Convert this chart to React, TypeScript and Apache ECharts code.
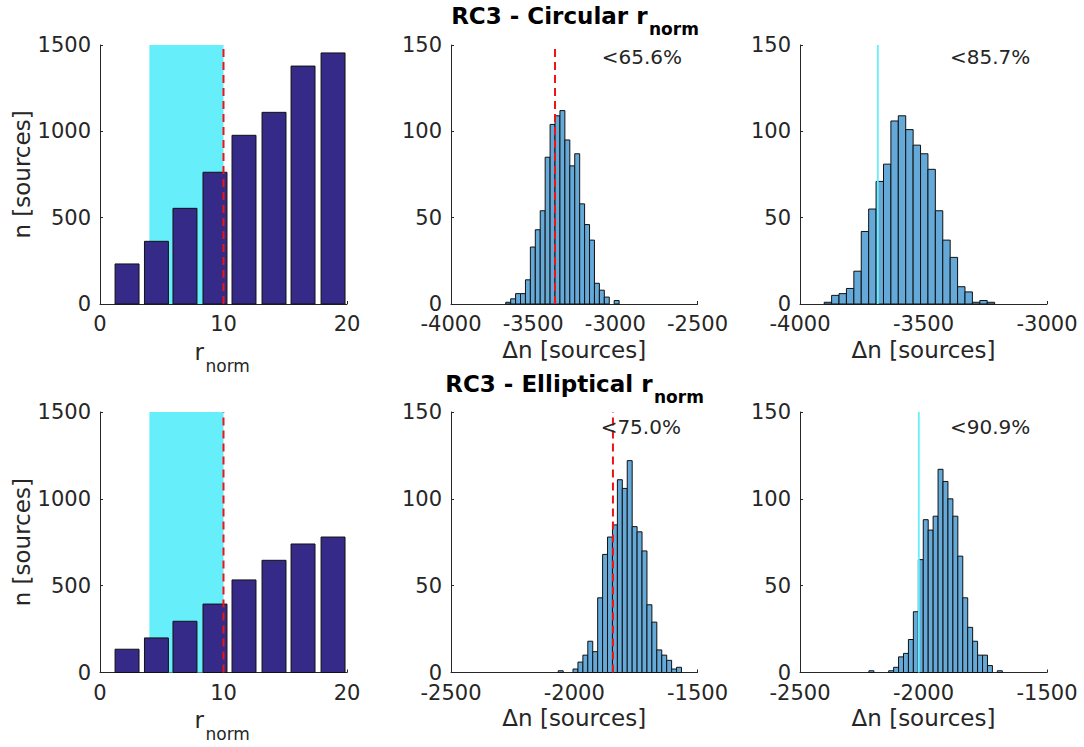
import React, { useEffect, useRef } from "react";
import * as echarts from "echarts";

// ---------- data ----------
const rnormCenters = [2.19, 4.57, 6.88, 9.31, 11.66, 14.09, 16.44, 18.87];
const rnormHalfWidth = 0.97;
const circularCounts = [232, 363, 554, 763, 977, 1110, 1378, 1454];
const ellipticalCounts = [134, 199, 295, 394, 533, 646, 740, 780];
const shadedRange = [4, 10];
const rnormCut = 10;

const circDiffStart = -3667;
const circDiffWidth = 30;
const circDiffCounts = [1, 3, 6, 6, 14, 33, 43, 54, 85, 104, 109, 112, 95, 80, 87, 58, 46, 37, 12, 8, 4, 0, 2];
const circDiffLine = -3367;
const circDiffPct = "<65.6%";

const circRefStart = -3902;
const circRefWidth = 30;
const circRefCounts = [1, 5, 6, 9, 19, 42, 55, 71, 81, 106, 109, 101, 92, 87, 78, 54, 37, 27, 10, 7, 1, 2, 1];
const circRefLine = -3685;
const circRefPct = "<85.7%";

const ellDiffStart = -2065;
const ellDiffWidth = 20;
const ellDiffCounts = [1, 0, 0, 2, 6, 10, 18, 12, 43, 68, 78, 85, 111, 106, 122, 84, 81, 70, 39, 29, 13, 10, 7, 2, 3];
const ellDiffLine = -1843;
const ellDiffPct = "<75.0%";

const ellRefStart = -2221;
const ellRefWidth = 20;
const ellRefCounts = [1, 0, 0, 0, 1, 3, 9, 11, 19, 35, 65, 88, 82, 90, 117, 110, 100, 90, 67, 43, 26, 18, 10, 10, 4, 0, 1];
const ellRefLine = -2019;
const ellRefPct = "<90.9%";

const leftXTicks = [0, 20, 10];
const leftYTicks = [0, 1500, 500];
const histYTicks = [0, 150, 50];
const circMidX = [-4000, -2500, 500];
const circRightX = [-4000, -3000, 500];
const ellMidX = [-2500, -1500, 500];
const ellRightX = [-2500, -1500, 500];
const pctPosTop = { mid: [-3083, 143], right: [-3393, 143] };
const pctPosBottom = { mid: [-1893, 141.3], right: [-1893, 141.3] };

// ---------- styles ----------
const FONT = "DejaVu Sans";
const AX = "#262626";
const NAVY = "#352A87";
const HIST = "#64A9D8";
const CYAN = "#66EEFB";
const RED = "#EE1414";

const grids = [
  { left: 100, top: 45, width: 247, height: 259 },
  { left: 451, top: 45, width: 246.5, height: 259 },
  { left: 800, top: 45, width: 247, height: 259 },
  { left: 100, top: 412, width: 247, height: 260.5 },
  { left: 451, top: 412, width: 246.5, height: 260.5 },
  { left: 800, top: 412, width: 247, height: 260.5 },
];

function axisCommon() {
  return {
    axisLine: { show: true, onZero: false, lineStyle: { color: AX, width: 1 } },
    axisTick: { show: true, inside: true, length: 3, lineStyle: { color: AX } },
    axisLabel: {
      color: AX,
      fontFamily: FONT,
      fontSize: 21,
      lineHeight: 16,
      margin: 12,
      showMinLabel: true,
      showMaxLabel: true,
      formatter: (v: number) => String(v),
    },
    splitLine: { show: false },
  };
}

function xAxisDef(gi: number, t: number[], name?: string) {
  const c: any = axisCommon();
  return {
    type: "value",
    gridIndex: gi,
    min: t[0],
    max: t[1],
    interval: t[2],
    ...c,
    name: name || "",
    nameLocation: "middle",
    nameGap: 34,
    nameTextStyle: { color: AX, fontFamily: FONT, fontSize: 23 },
  };
}

function yAxisDef(gi: number, t: number[], name?: string) {
  const c: any = axisCommon();
  c.axisLabel = { ...c.axisLabel, margin: 9 };
  return {
    type: "value",
    gridIndex: gi,
    min: t[0],
    max: t[1],
    interval: t[2],
    ...c,
    name: name || "",
    nameLocation: "middle",
    nameRotate: 90,
    nameGap: 64,
    nameTextStyle: { color: AX, fontFamily: FONT, fontSize: 23 },
  };
}

function binData(start: number, width: number, counts: number[]) {
  const out: number[][] = [];
  counts.forEach((c, i) => {
    if (c > 0) out.push([start + i * width, start + (i + 1) * width, c]);
  });
  return out;
}

function rectSeries(gi: number, data: number[][], fill: string, stroke: string | null, z: number) {
  return {
    type: "custom",
    xAxisIndex: gi,
    yAxisIndex: gi,
    z,
    silent: true,
    data,
    encode: { x: [0, 1], y: 2 },
    renderItem: (_p: any, api: any) => {
      const a = api.coord([api.value(0), api.value(2)]);
      const b = api.coord([api.value(1), 0]);
      return {
        type: "rect",
        shape: { x: a[0], y: a[1], width: b[0] - a[0], height: b[1] - a[1] },
        style: stroke ? { fill, stroke, lineWidth: 1 } : { fill },
      };
    },
  };
}

function vlineSeries(gi: number, x: number, ymax: number, color: string, dashed: boolean) {
  return {
    type: "custom",
    xAxisIndex: gi,
    yAxisIndex: gi,
    z: 5,
    silent: true,
    data: [[x, 0, ymax]],
    encode: { x: 0, y: [1, 2] },
    renderItem: (_p: any, api: any) => {
      const a = api.coord([api.value(0), api.value(1)]);
      const b = api.coord([api.value(0), api.value(2)]);
      return {
        type: "line",
        shape: { x1: a[0], y1: a[1], x2: b[0], y2: b[1] },
        style: dashed
          ? { stroke: color, lineWidth: 2, lineDash: [8, 5] }
          : { stroke: color, lineWidth: 1.8 },
      };
    },
  };
}

function textSeries(gi: number, pos: number[], text: string) {
  return {
    type: "custom",
    xAxisIndex: gi,
    yAxisIndex: gi,
    z: 6,
    silent: true,
    data: [pos],
    encode: { x: 0, y: 1 },
    renderItem: (_p: any, api: any) => {
      const p = api.coord([api.value(0), api.value(1)]);
      return {
        type: "text",
        style: {
          text,
          x: p[0],
          y: p[1],
          fill: AX,
          fontFamily: FONT,
          fontSize: 20,
          align: "left",
          verticalAlign: "middle",
        },
      };
    },
  };
}

function leftBars(counts: number[]) {
  return rnormCenters.map((c, i) => [c - rnormHalfWidth, c + rnormHalfWidth, counts[i]]);
}

function subLabel(xJoin: number, yMain: number, ySub: number, main: string, bold: boolean, mainSize: number, subSize: number, color: string) {
  const w = bold ? "bold" : "normal";
  return [
    {
      type: "text",
      x: xJoin,
      y: yMain,
      silent: true,
      style: { text: main, fill: color, fontFamily: FONT, fontSize: mainSize, fontWeight: w, align: "right", verticalAlign: "middle" },
    },
    {
      type: "text",
      x: xJoin + 1.5,
      y: ySub,
      silent: true,
      style: { text: "norm", fill: color, fontFamily: FONT, fontSize: subSize, fontWeight: w, align: "left", verticalAlign: "middle" },
    },
  ];
}

export default function App() {
  const ref = useRef<HTMLDivElement>(null);
  useEffect(() => {
    if (!ref.current) return;
    const chart = echarts.init(ref.current, undefined, { renderer: "svg" });
    const option: any = {
      animation: false,
      backgroundColor: "#ffffff",
      grid: grids.map((g) => ({ ...g, containLabel: false })),
      xAxis: [
        xAxisDef(0, leftXTicks),
        xAxisDef(1, circMidX, "Δn [sources]"),
        xAxisDef(2, circRightX, "Δn [sources]"),
        xAxisDef(3, leftXTicks),
        xAxisDef(4, ellMidX, "Δn [sources]"),
        xAxisDef(5, ellRightX, "Δn [sources]"),
      ],
      yAxis: [
        yAxisDef(0, leftYTicks, "n [sources]"),
        yAxisDef(1, histYTicks),
        yAxisDef(2, histYTicks),
        yAxisDef(3, leftYTicks, "n [sources]"),
        yAxisDef(4, histYTicks),
        yAxisDef(5, histYTicks),
      ],
      series: [
        rectSeries(0, [[shadedRange[0], shadedRange[1], leftYTicks[1]]], CYAN, null, 1),
        rectSeries(0, leftBars(circularCounts), NAVY, "#111111", 2),
        vlineSeries(0, rnormCut, leftYTicks[1], RED, true),
        rectSeries(3, [[shadedRange[0], shadedRange[1], leftYTicks[1]]], CYAN, null, 1),
        rectSeries(3, leftBars(ellipticalCounts), NAVY, "#111111", 2),
        vlineSeries(3, rnormCut, leftYTicks[1], RED, true),

        rectSeries(1, binData(circDiffStart, circDiffWidth, circDiffCounts), HIST, "#111111", 2),
        vlineSeries(1, circDiffLine, histYTicks[1], RED, true),
        textSeries(1, pctPosTop.mid, circDiffPct),

        rectSeries(2, binData(circRefStart, circRefWidth, circRefCounts), HIST, "#111111", 2),
        vlineSeries(2, circRefLine, histYTicks[1], CYAN, false),
        textSeries(2, pctPosTop.right, circRefPct),

        rectSeries(4, binData(ellDiffStart, ellDiffWidth, ellDiffCounts), HIST, "#111111", 2),
        vlineSeries(4, ellDiffLine, histYTicks[1], RED, true),
        textSeries(4, pctPosBottom.mid, ellDiffPct),

        rectSeries(5, binData(ellRefStart, ellRefWidth, ellRefCounts), HIST, "#111111", 2),
        vlineSeries(5, ellRefLine, histYTicks[1], CYAN, false),
        textSeries(5, pctPosBottom.right, ellRefPct),
      ],
      graphic: [
        ...subLabel(647.5, 16.4, 29.1, "RC3 - Circular r", true, 23, 17, "#000000"),
        ...subLabel(652.5, 384.1, 397.4, "RC3 - Elliptical r", true, 23, 17, "#000000"),
        ...subLabel(204, 352, 366, "r", false, 23, 17, AX),
        ...subLabel(204, 720, 734, "r", false, 23, 17, AX),
      ],
    };
    chart.setOption(option);
    return () => chart.dispose();
  }, []);
  return (
    <div
      ref={ref}
      style={{ position: "fixed", left: 0, top: 0, width: 1084, height: 747, background: "#fff" }}
    />
  );
}
